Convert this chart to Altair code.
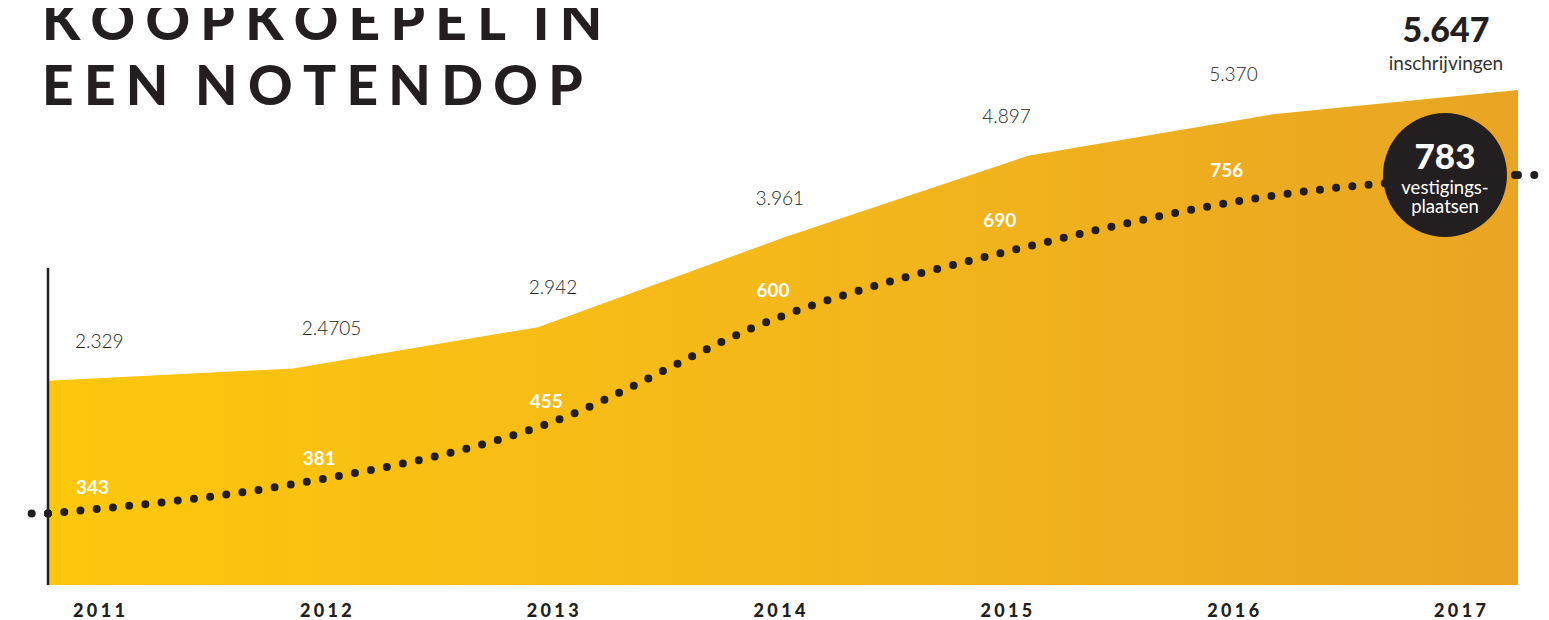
import altair as alt
import pandas as pd

# ---- data ----
years = [2011, 2012, 2013, 2014, 2015, 2016, 2017]
inschrijvingen = [2329, 2470.5, 2942, 3961, 4897, 5370, 5647]
inschrijving_labels = ["2.329", "2.4705", "2.942", "3.961", "4.897", "5.370", "5.647"]
vestigingen = [343, 381, 455, 600, 690, 756, 783]
vestiging_labels = ["343", "381", "455", "600", "690", "756", "783"]
title_lines = ["KOOPKOEPEL IN", "EEN NOTENDOP"]
total_caption = "inschrijvingen"
circle_caption = ["vestigings-", "plaatsen"]

THIN = "\u2009"
HAIR = "\u200A"


def spaced(s, sep=THIN):
    return sep.join(list(s))


df = pd.DataFrame({
    "year": years,
    "ins": inschrijvingen,
    "ins_label": inschrijving_labels,
    "vest": vestigingen,
    "vest_label": vestiging_labels,
    "year_label": [spaced(str(y), THIN + HAIR) for y in years],
})

DARK = "#231F20"
FONT = "Lato"
W, H = 1470, 577

x_main = alt.Scale(domain=[2011, 2017], nice=False, zero=False)
x_lab = alt.Scale(domain=[2010.7752, 2017.2558], nice=False, zero=False)
y_main = alt.Scale(domain=[0, 6583], nice=False, zero=False)
y_dot = alt.Scale(domain=[250, 1000], nice=False, zero=False)

base = alt.Chart(df)
X = alt.X("year:Q", scale=x_main, axis=None)
XL = alt.X("year:Q", scale=x_lab, axis=None)
Y_INS = alt.Y("ins:Q", scale=y_main, axis=None)
Y_VEST = alt.Y("vest:Q", scale=y_dot, axis=None)

gradient = alt.LinearGradient(
    gradient="linear",
    stops=[
        alt.GradientStop(color="#FDC70C", offset=0),
        alt.GradientStop(color="#F4B81A", offset=0.5),
        alt.GradientStop(color="#E9A523", offset=1),
    ],
    x1=0, x2=1, y1=0, y2=0,
)

area = base.mark_area(color=gradient, line=False).encode(x=X, y=Y_INS)

vline = base.transform_filter(alt.datum.year == years[0]).transform_calculate(
    zero="0"
).mark_rule(color=DARK, strokeWidth=2.5).encode(
    x=X, y=alt.Y("zero:Q", scale=y_main, axis=None), y2=alt.value(260)
)

dot_style = dict(color=DARK, strokeWidth=8, strokeCap="round", strokeDash=[0, 16.3])

dots = base.mark_line(interpolate="monotone", **dot_style).encode(x=X, y=Y_VEST)

lead_in = base.transform_filter(alt.datum.year == years[0]).mark_rule(**dot_style).encode(
    x=X, x2=alt.value(-30), y=Y_VEST
)
lead_out = base.transform_filter(alt.datum.year == years[-1]).mark_rule(**dot_style).encode(
    x=X, x2=alt.value(W + 23), y=Y_VEST
)

last = base.transform_filter(alt.datum.year == years[-1])

circle = last.mark_circle(size=15376, color=DARK, opacity=1, xOffset=-73).encode(x=X, y=Y_VEST)
circle_num = last.mark_text(
    dx=-73, dy=-17, font=FONT, fontSize=35, fontWeight=900, color="white", baseline="middle"
).encode(x=X, y=Y_VEST, text="vest_label:N")
circle_cap = last.mark_text(
    dx=-73, dy=13, font=FONT, fontSize=18.5, color="white", baseline="middle", lineHeight=19
).encode(x=X, y=Y_VEST, text=alt.value(circle_caption))

total_num = last.mark_text(
    dx=-72, dy=-58, font=FONT, fontSize=34, fontWeight=900, color=DARK, baseline="middle"
).encode(x=X, y=Y_INS, text="ins_label:N")
total_cap = last.mark_text(
    dx=-72, dy=-26, font=FONT, fontSize=19, color="#333333", baseline="middle"
).encode(x=X, y=Y_INS, text=alt.value(total_caption))

rest = base.transform_filter(alt.datum.year < years[-1])
ins_text = rest.mark_text(
    align="left", dx=-24, dy=-39, font=FONT, fontSize=19, fontWeight=300, color=DARK,
    baseline="middle",
).encode(x=XL, y=Y_INS, text="ins_label:N")
vest_text = rest.mark_text(
    align="left", dx=-23, dy=-25, font=FONT, fontSize=19, fontWeight="bold", color="white",
    baseline="middle",
).encode(x=XL, y=Y_VEST, text="vest_label:N")

year_text = base.transform_calculate(zero="0").mark_text(
    dy=27, font=FONT, fontSize=18, fontWeight=900, color=DARK, baseline="middle"
).encode(x=XL, y=alt.Y("zero:Q", scale=y_main, axis=None), text="year_label:N")


def title_word(s):
    gap = THIN + HAIR
    return (THIN + " " + THIN).join(spaced(w, gap) for w in s.split(" "))


first = base.transform_filter(alt.datum.year == years[0])
title_style = dict(align="left", baseline="alphabetic", font=FONT, fontSize=55,
                   fontWeight=900, color=DARK)
title1 = first.mark_text(**title_style).encode(
    x=alt.value(-6), y=alt.value(32), text=alt.value(title_word(title_lines[0])))
title2 = first.mark_text(**title_style).encode(
    x=alt.value(-6), y=alt.value(97), text=alt.value(title_word(title_lines[1])))

chart = alt.layer(
    area, vline, dots, lead_in, lead_out, circle, circle_num, circle_cap,
    total_num, total_cap, ins_text, vest_text, year_text, title1, title2,
).resolve_scale(x="independent", y="independent").properties(
    width=W, height=H,
    autosize=alt.AutoSizeParams(type="none"),
    padding={"left": 40, "top": 0, "right": 23, "bottom": 35},
    background="white",
).configure_view(stroke=None)

chart.save("out.html", embed_options={"renderer": "svg", "actions": False})
